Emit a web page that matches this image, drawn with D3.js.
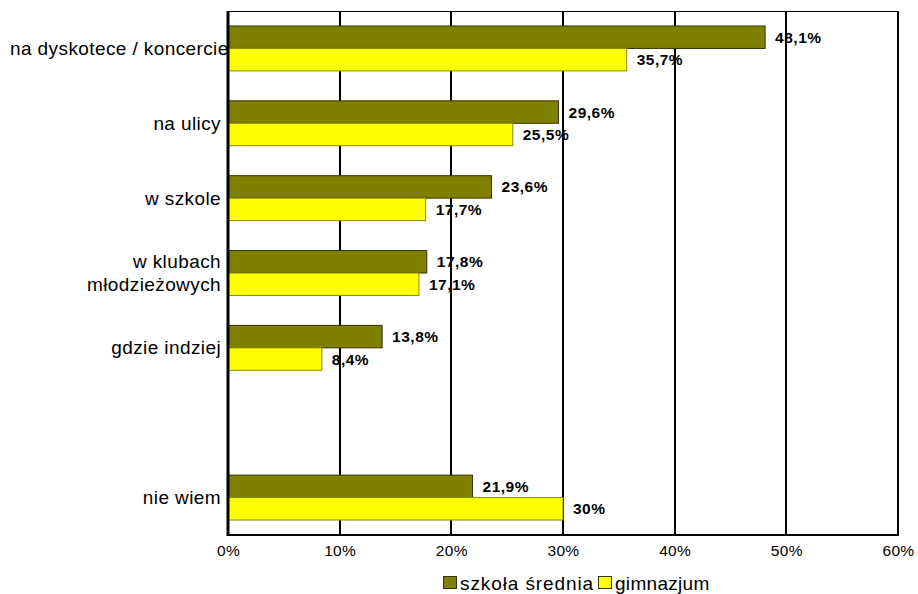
<!DOCTYPE html>
<html lang="pl">
<head>
<meta charset="utf-8">
<script src="https://cdn.jsdelivr.net/npm/d3@7/dist/d3.min.js"></script>
<style>
  html, body { margin: 0; padding: 0; background: #fff; }
  svg { display: block; font-family: "Liberation Sans", Arial, sans-serif; }
</style>
</head>
<body>
<svg id="chart" width="918" height="594"></svg>
<script>
// Categories (top to bottom); the empty entry leaves a blank row before "nie wiem"
const categories = ["na dyskotece / koncercie", "na ulicy", "w szkole", "w klubach młodzieżowych", "gdzie indziej", "", "nie wiem"];
const categoryLines = [["na dyskotece / koncercie"], ["na ulicy"], ["w szkole"], ["w klubach", "młodzieżowych"], ["gdzie indziej"], [], ["nie wiem"]];
const seriesNames = ["szkoła średnia", "gimnazjum"];
const szkolaSrednia = [48.1, 29.6, 23.6, 17.8, 13.8, null, 21.9];
const gimnazjum = [35.7, 25.5, 17.7, 17.1, 8.4, null, 30];
const valueLabelsSzkola = ["48,1%", "29,6%", "23,6%", "17,8%", "13,8%", "", "21,9%"];
const valueLabelsGimnazjum = ["35,7%", "25,5%", "17,7%", "17,1%", "8,4%", "", "30%"];
const tickValues = [0, 10, 20, 30, 40, 50, 60];
const tickLabels = ["0%", "10%", "20%", "30%", "40%", "50%", "60%"];

const colors = { fill: ["#808000", "#ffff00"], stroke: ["#333300", "#8a8a00"] };

const svg = d3.select("#chart");
const plot = { left: 228, right: 898, top: 11, bottom: 535 };

const x = d3.scaleLinear().domain([0, 60]).range([plot.left, plot.right]);
const y = d3.scaleBand().domain(categories).range([plot.top, plot.bottom])
  .paddingInner(0.4).paddingOuter(0.2);
const ySeries = d3.scaleBand().domain(seriesNames).range([0, y.bandwidth()]);

// top border of the plotting area
svg.append("line")
  .attr("x1", plot.left).attr("x2", plot.right)
  .attr("y1", plot.top + 0.5).attr("y2", plot.top + 0.5)
  .attr("stroke", "#000").attr("stroke-width", 1);

// vertical gridlines
svg.append("g").selectAll("line").data(tickValues).join("line")
  .attr("x1", d => Math.round(x(d))).attr("x2", d => Math.round(x(d)))
  .attr("y1", plot.top).attr("y2", plot.bottom)
  .attr("stroke", "#000").attr("stroke-width", 2);

// bars
const rows = categories.map((c, i) => ({
  cat: c,
  values: [szkolaSrednia[i], gimnazjum[i]],
  labels: [valueLabelsSzkola[i], valueLabelsGimnazjum[i]]
}));

const groups = svg.append("g").selectAll("g").data(rows).join("g")
  .attr("transform", d => `translate(0,${y(d.cat)})`);

groups.each(function (row) {
  const g = d3.select(this);
  seriesNames.forEach((s, k) => {
    const v = row.values[k];
    if (v == null) return;
    g.append("rect")
      .attr("x", x(0))
      .attr("y", ySeries(s))
      .attr("width", x(v) - x(0))
      .attr("height", ySeries.bandwidth())
      .attr("fill", colors.fill[k])
      .attr("stroke", colors.stroke[k])
      .attr("stroke-width", 1);
    g.append("text")
      .attr("x", x(v) + 10)
      .attr("y", ySeries(s) + ySeries.bandwidth() / 2 + 5.5)
      .attr("font-size", 15.5)
      .attr("font-weight", "bold")
      .style("letter-spacing", "0.5px")
      .attr("fill", "#000")
      .text(row.labels[k]);
  });
});

// axis lines
svg.append("line")
  .attr("x1", plot.left - 1).attr("x2", plot.right + 1)
  .attr("y1", plot.bottom).attr("y2", plot.bottom)
  .attr("stroke", "#000").attr("stroke-width", 2);
svg.append("line")
  .attr("x1", plot.left).attr("x2", plot.left)
  .attr("y1", plot.top).attr("y2", plot.bottom + 1)
  .attr("stroke", "#000").attr("stroke-width", 3);

// x tick labels
const xAxis = d3.axisBottom(x).tickValues(tickValues)
  .tickFormat((d, i) => tickLabels[i]).tickSize(0).tickPadding(0);
const xg = svg.append("g").attr("transform", `translate(0,${plot.bottom})`).call(xAxis);
xg.select(".domain").remove();
xg.selectAll("text")
  .attr("dy", null).attr("y", 21)
  .attr("font-size", 15.5).attr("fill", "#000")
  .attr("font-family", "Liberation Sans, Arial, sans-serif")
  .style("letter-spacing", "0.3px");

// category labels, right-aligned; a label too long for the margin starts at the left edge
const catG = svg.append("g");
rows.forEach((row, i) => {
  const lines = categoryLines[i];
  if (!lines.length) return;
  const cy = y(row.cat) + y.bandwidth() / 2;
  const lh = 23;
  const first = cy + 6.5 - (lines.length - 1) * lh / 2;
  lines.forEach((t, j) => {
    const txt = catG.append("text")
      .attr("y", first + j * lh)
      .attr("font-size", 19)
      .style("letter-spacing", "0.4px")
      .attr("fill", "#000")
      .text(t);
    const w = txt.node().getComputedTextLength();
    if (221 - w < 10) {
      txt.attr("x", 10).attr("text-anchor", "start");
    } else {
      txt.attr("x", 221).attr("text-anchor", "end");
    }
  });
});

// legend
const legendX = [443, 598];
const legend = svg.append("g");
seriesNames.forEach((s, k) => {
  legend.append("rect")
    .attr("x", legendX[k] + 0.5).attr("y", 576.5)
    .attr("width", 13).attr("height", 12)
    .attr("fill", colors.fill[k]).attr("stroke", "#333300").attr("stroke-width", 1);
  legend.append("text")
    .attr("x", legendX[k] + 17).attr("y", 590)
    .attr("font-size", 19)
    .style("letter-spacing", k === 0 ? "0.9px" : "0.3px")
    .attr("fill", "#000")
    .text(s);
});
</script>
</body>
</html>
